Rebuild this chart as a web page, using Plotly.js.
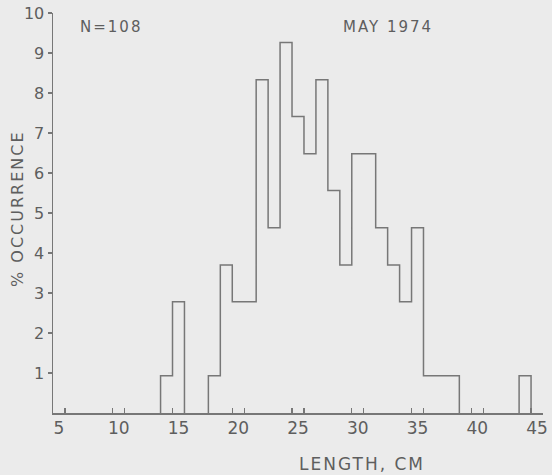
<!DOCTYPE html>
<html>
<head>
<meta charset="utf-8">
<script src="https://cdn.plot.ly/plotly-3.0.1.min.js"></script>
<style>
html, body { margin: 0; padding: 0; background: #ebebeb; }
#chart { width: 552px; height: 475px; }
.annotation-text { letter-spacing: 2px; }
</style>
</head>
<body>
<div id="chart"></div>
<script>
// Length bins (cm, bin centres, width 1 cm) and percent occurrence, N = 108
var lengths = [14, 15, 16, 17, 18, 19, 20, 21, 22, 23, 24, 25, 26, 27, 28, 29, 30, 31, 32, 33, 34, 35, 36, 37, 38, 39, 40, 41, 42, 43, 44];
var percent = [0.93, 2.78, 0, 0, 0.93, 3.70, 2.78, 2.78, 8.33, 4.63, 9.26, 7.41, 6.48, 8.33, 5.56, 3.70, 6.48, 6.48, 4.63, 3.70, 2.78, 4.63, 0.93, 0.93, 0.93, 0, 0, 0, 0, 0, 0.93];
var xTickLabels = [5, 10, 15, 20, 25, 30, 35, 40, 45];
var xMinorTicks = [5.5, 9.5, 10.5, 14.5, 15.5, 19.5, 20.5, 24.5, 25.5, 29.5, 30.5, 34.5, 35.5, 39.5, 40.5, 44.5, 45.5];
var yTicks = [1, 2, 3, 4, 5, 6, 7, 8, 9, 10];

// build step outline from bins; runs of non-zero bins become closed outlines
var binWidth = 1;
var sx = [], sy = [];
var inRun = false;
for (var i = 0; i < lengths.length; i++) {
  var left = lengths[i] - binWidth / 2, right = lengths[i] + binWidth / 2;
  var v = percent[i];
  if (v > 0) {
    if (!inRun) { sx.push(left); sy.push(0); inRun = true; }
    sx.push(left); sy.push(v);
    sx.push(right); sy.push(v);
  } else if (inRun) {
    sx.push(left); sy.push(0);
    sx.push(null); sy.push(null);
    inRun = false;
  }
}
if (inRun) { sx.push(lengths[lengths.length - 1] + binWidth / 2); sy.push(0); }

var lineCol = '#777777';
var textCol = '#5e5e5e';
var font = 'DejaVu Sans, sans-serif';

var traces = [{
  type: 'scatter', mode: 'lines', x: sx, y: sy, connectgaps: false,
  line: { color: lineCol, width: 1.5 },
  hoverinfo: 'skip', showlegend: false
}, {
  type: 'scatter', mode: 'markers', x: [xTickLabels[0]], y: [0], xaxis: 'x2', yaxis: 'y',
  marker: { opacity: 0 }, hoverinfo: 'skip', showlegend: false
}];

var layout = {
  width: 552, height: 475,
  margin: { l: 53, r: 9, t: 13, b: 62 },
  paper_bgcolor: '#ebebeb', plot_bgcolor: '#ebebeb',
  showlegend: false,
  xaxis: {
    range: [4.5, 45.5], showgrid: false, zeroline: false,
    showline: true, linecolor: lineCol, linewidth: 1.5,
    tickmode: 'array', tickvals: xMinorTicks, ticktext: xMinorTicks.map(function () { return ''; }),
    ticks: 'inside', ticklen: 5, tickcolor: lineCol, tickwidth: 1.2
  },
  xaxis2: {
    overlaying: 'x', range: [4.5, 45.5], showgrid: false, zeroline: false, showline: false,
    side: 'bottom', anchor: 'y',
    tickmode: 'array', tickvals: xTickLabels, ticktext: xTickLabels.map(String),
    ticks: '', ticklabelstandoff: 3,
    tickfont: { family: font, size: 17, color: textCol }
  },
  yaxis: {
    range: [0, 10], showgrid: false, zeroline: false,
    showline: true, linecolor: lineCol, linewidth: 1.5,
    tickmode: 'array', tickvals: yTicks, ticktext: yTicks.map(String),
    ticks: 'outside', ticklen: 4, tickcolor: lineCol, tickwidth: 1.2,
    ticklabelstandoff: 0,
    tickfont: { family: font, size: 16, color: textCol }
  },
  annotations: [
    { text: 'N=108', xref: 'paper', yref: 'paper', x: 0.119, xanchor: 'center', y: 0.965, yanchor: 'middle', showarrow: false,
      font: { family: font, size: 15, color: textCol } },
    { text: 'MAY 1974', xref: 'paper', yref: 'paper', x: 0.684, xanchor: 'center', y: 0.966, yanchor: 'middle', showarrow: false,
      font: { family: font, size: 15, color: textCol } },
    { text: 'LENGTH, CM', xref: 'paper', yref: 'paper', x: 0.631, xanchor: 'center', y: -0.127, yanchor: 'middle', showarrow: false,
      font: { family: font, size: 17, color: textCol } },
    { text: '% OCCURRENCE', xref: 'paper', yref: 'paper', x: -0.0735, xanchor: 'center', y: 0.5125, yanchor: 'middle', textangle: -90, showarrow: false,
      font: { family: font, size: 16, color: textCol } }
  ]
};

Plotly.newPlot('chart', traces, layout, { staticPlot: true });
</script>
</body>
</html>
